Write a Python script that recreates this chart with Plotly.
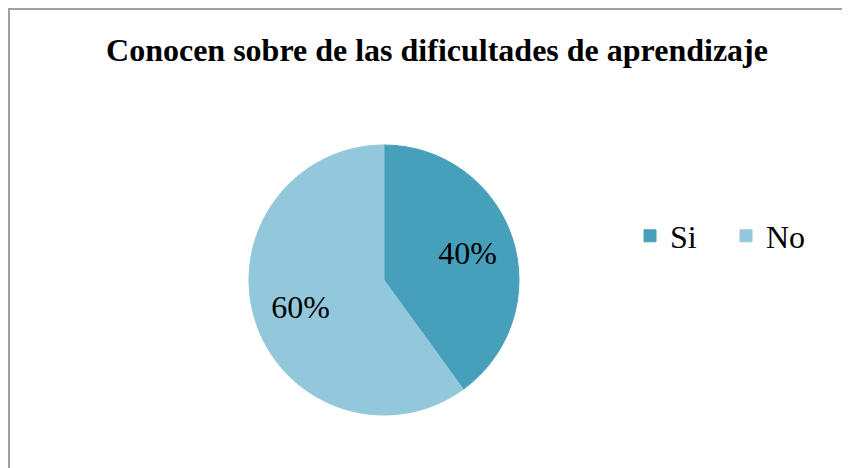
import plotly.graph_objects as go

labels = ["Si", "No"]
values = [40, 60]
colors = ["#46a0bb", "#93c8dc"]

# page has 8px body margin, so positions are offset by 8
W, H, OFF = 850, 468, 8
serif = "Liberation Serif"
dom = dict(x=[(249 - OFF)/W, (519 - OFF)/W], y=[1-(415 - OFF)/H, 1-(145 - OFF)/H])

fig = go.Figure()
fig.add_trace(go.Pie(
    labels=labels, values=values,
    marker=dict(colors=colors, line=dict(color=colors, width=1)),
    sort=False, direction="clockwise", rotation=0,
    textinfo="none",
    domain=dom,
    hoverinfo="label+percent",
))
# transparent ring on top only to push the percent labels outward
fig.add_trace(go.Pie(
    labels=labels, values=values, hole=0.3,
    marker=dict(colors=["rgba(0,0,0,0)"] * 2),
    sort=False, direction="clockwise", rotation=0,
    textinfo="percent", textposition="inside",
    insidetextfont=dict(family=serif, size=32, color="black"),
    domain=dom, showlegend=False, hoverinfo="skip",
))

fig.add_shape(type="rect", xref="paper", yref="paper",
              x0=(9 - OFF)/W, y0=-0.1, x1=1.1, y1=1-(9 - OFF)/H,
              line=dict(color="#a0a0a0", width=2))

fig.update_layout(
    width=W, height=H,
    margin=dict(l=0, r=0, t=0, b=0),
    paper_bgcolor="white", plot_bgcolor="white",
    title=dict(text="<b>Conocen sobre de las dificultades de aprendizaje</b>",
               x=(437 - OFF)/W, xanchor="center", y=1-(50 - OFF)/H, yanchor="middle",
               font=dict(family=serif, size=32, color="black")),
    legend=dict(orientation="h", x=(630 - OFF)/W, xanchor="left",
                y=1-(236 - OFF)/H, yanchor="middle",
                entrywidth=51, entrywidthmode="pixels",
                font=dict(family=serif, size=32, color="black")),
)

fig.write_html("out.html")
